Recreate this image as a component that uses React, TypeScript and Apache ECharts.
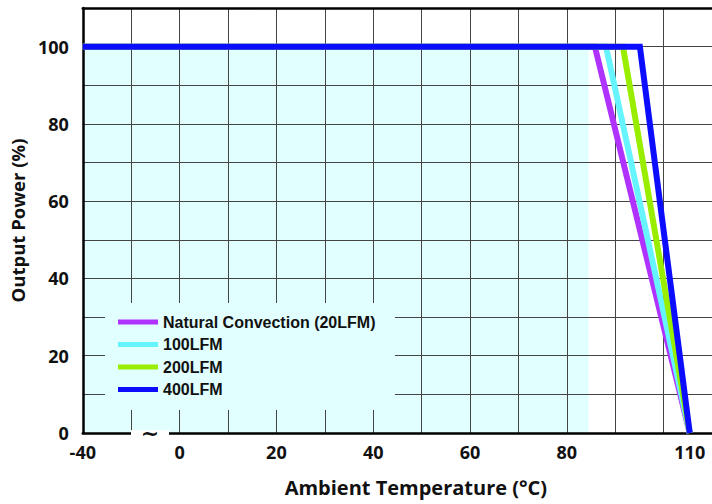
import React, { useEffect, useRef } from "react";
import * as echarts from "echarts";

// Axis positions as drawn (the -40 to 0 span is compressed, a break "~" marks it)
const xTickValues = [-20, 0, 20, 40, 60, 80, 105.4];
const xTickLabels = ["-40", "0", "20", "40", "60", "80", "110"];
const yTickValues = [0, 20, 40, 60, 80, 100];

const seriesNames = ["Natural Convection (20LFM)", "100LFM", "200LFM", "400LFM"];
const seriesColors = ["#b032ff", "#66f4ff", "#99ee00", "#0c0cff"];
const startX = -20; // labelled -40
const kneeX = [85.8, 88.1, 91.6, 95.1];
const endX = 105.4; // labelled 110
const fullPower = 100;
const zeroPower = 0;
const shadeEndX = 84.5;

const SHADE = "#e2ffff";

export default function App() {
  const ref = useRef<HTMLDivElement>(null);
  useEffect(() => {
    if (!ref.current) return;
    const chart = echarts.init(ref.current, undefined, { renderer: "svg" });
    const lineSeries = seriesNames.map((name, i) => ({
      name,
      type: "line",
      z: 3,
      symbol: "none",
      silent: true,
      color: seriesColors[i],
      lineStyle: { width: 6, color: seriesColors[i], join: "miter" },
      data: [
        [startX, fullPower],
        [kneeX[i], fullPower],
        [endX, zeroPower],
      ],
    }));
    const font = "'Open Sans', 'Noto Sans', sans-serif";
    chart.setOption({
      animation: false,
      grid: { left: 81, right: 0, top: 8, bottom: 71, containLabel: false },
      legend: {
        data: seriesNames,
        orient: "vertical",
        left: 118,
        top: 313,
        z: 5,
        icon: "rect",
        itemWidth: 40,
        itemHeight: 5,
        itemGap: 4.5,
        padding: 0,
        textStyle: {
          fontFamily: "'Liberation Sans', Arial, sans-serif",
          fontWeight: "bold",
          fontSize: 16,
          lineHeight: 18,
          color: "#111",
        },
      },
      xAxis: [
        {
          type: "value",
          min: -20,
          max: 110,
          interval: 10,
          z: 1,
          name: "Ambient Temperature (°C)",
          nameLocation: "middle",
          nameGap: 44,
          nameTextStyle: {
            fontFamily: font,
            fontWeight: "bold",
            fontSize: 20,
            color: "#111",
            padding: [0, 0, 0, 37],
            verticalAlign: "top",
          },
          axisLine: { show: true, onZero: false, lineStyle: { color: "#000", width: 2.5 } },
          axisTick: { show: false },
          splitLine: { show: true, lineStyle: { color: "#444", width: 1 } },
          axisLabel: {
            customValues: xTickValues,
            margin: 10,
            fontFamily: font,
            fontWeight: "bold",
            fontSize: 18,
            color: "#111",
            formatter: (v: number) => {
              const i = xTickValues.indexOf(v);
              return i >= 0 ? xTickLabels[i] : "";
            },
          },
        },
        {
          type: "value",
          position: "top",
          min: -20,
          max: 110,
          z: 1,
          axisLine: { show: true, onZero: false, lineStyle: { color: "#000", width: 2.5 } },
          axisTick: { show: false },
          axisLabel: { show: false },
          splitLine: { show: false },
        },
      ],
      yAxis: {
        type: "value",
        min: 0,
        max: 110,
        interval: 10,
        z: 1,
        name: "Output Power (%)",
        nameLocation: "middle",
        nameGap: 52,
        nameTextStyle: {
          fontFamily: font,
          fontWeight: "bold",
          fontSize: 18.5,
          color: "#111",
        },
        axisLine: { show: true, onZero: false, lineStyle: { color: "#000", width: 2.5 } },
        axisTick: { show: false },
        splitLine: { show: true, lineStyle: { color: "#444", width: 1 } },
        axisLabel: {
          margin: 14,
          fontFamily: font,
          fontWeight: "bold",
          fontSize: 18,
          color: "#111",
          formatter: (v: number) => (yTickValues.indexOf(v) >= 0 ? String(v) : ""),
        },
      },
      series: [
        {
          name: "shade",
          type: "line",
          z: 0,
          silent: true,
          symbol: "none",
          lineStyle: { width: 0, opacity: 0 },
          areaStyle: { color: SHADE, opacity: 1 },
          data: [
            [startX, fullPower],
            [shadeEndX, fullPower],
          ],
        },
        ...lineSeries,
      ],
      graphic: [
        {
          type: "rect",
          z: 2,
          silent: true,
          shape: { x: 105, y: 303, width: 290, height: 107 },
          style: { fill: SHADE },
        },
        {
          type: "rect",
          z: 2,
          silent: true,
          shape: { x: 131, y: 430, width: 38, height: 8 },
          style: { fill: "#fff" },
        },
        {
          type: "text",
          z: 4,
          silent: true,
          x: 150,
          y: 433,
          style: {
            text: "~",
            fontFamily: "'DejaVu Sans', sans-serif",
            fontWeight: "bold",
            fontSize: 22,
            fill: "#111",
            align: "center",
            verticalAlign: "middle",
          },
        },
      ],
    });
    return () => chart.dispose();
  }, []);
  return (
    <div
      ref={ref}
      style={{ position: "fixed", left: 0, top: 0, width: 712, height: 504, background: "#fff" }}
    />
  );
}
